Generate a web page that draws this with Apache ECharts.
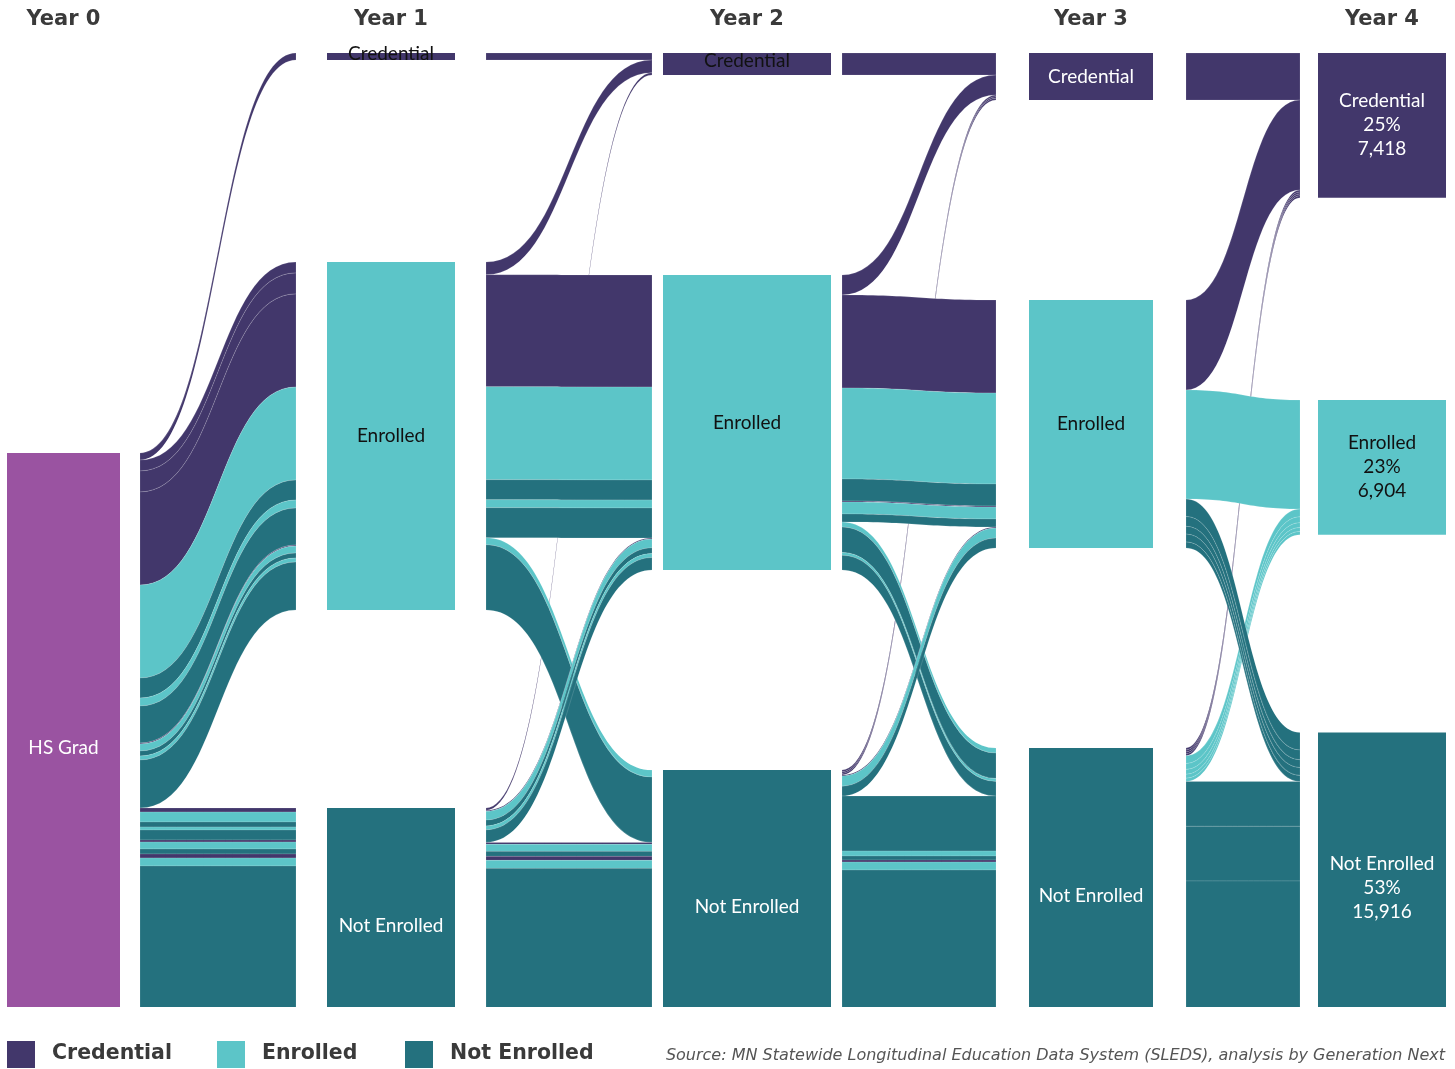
<!DOCTYPE html>
<html><head><meta charset="utf-8">
<script src="https://cdn.jsdelivr.net/npm/echarts@6/dist/echarts.min.js"></script>
<style>html,body{margin:0;padding:0;background:#fff}#c{width:1455px;height:1069px}</style>
</head><body><div id="c"></div>
<script>
// ---------------- data ----------------
const yearLabels = ['Year 0', 'Year 1', 'Year 2', 'Year 3', 'Year 4'];
const stateNames = { G: 'HS Grad', C: 'Credential', E: 'Enrolled', N: 'Not Enrolled' };
const legendStates = ['C', 'E', 'N'];
const sourceNote = 'Source: MN Statewide Longitudinal Education Data System (SLEDS), analysis by Generation Next';

// each flow: [from state, to state, state in Year 4 (colour), students]
const flowsY0Y1 = [
  ['G','C','C',360],
  ['G','E','C',560],['G','E','C',1075],['G','E','C',4771],
  ['G','E','E',4766],['G','E','N',1025],['G','E','E',410],['G','E','N',1896],
  ['G','E','C',50],['G','E','E',359],['G','E','N',256],['G','E','E',205],['G','E','N',2462],
  ['G','N','C',205],['G','N','E',512],['G','N','N',256],['G','N','E',154],['G','N','N',512],
  ['G','N','C',102],['G','N','E',359],['G','N','N',256],['G','N','C',205],['G','N','E',410],['G','N','N',9072]
];
const flowsY1Y2 = [
  ['C','C','C',360],
  ['E','C','C',650],
  ['N','C','C',120],
  ['E','E','C',5740],['E','E','E',4766],['E','E','N',1025],['E','E','E',410],['E','E','N',1538],
  ['E','N','E',360],['E','N','N',3346],
  ['N','E','C',50],['N','E','E',450],['N','E','N',300],['N','E','E',200],['N','E','N',641],
  ['N','N','C',102],['N','N','E',359],['N','N','N',256],['N','N','C',205],['N','N','E',410],['N','N','N',8950]
];
const flowsY2Y3 = [
  ['C','C','C',1130],
  ['E','C','C',1025],
  ['N','C','C',85],['N','C','C',85],['N','C','C',85],
  ['E','E','C',4766],['E','E','E',4664],['E','E','N',1128],['E','E','C',50],['E','E','E',615],['E','E','N',410],
  ['E','N','E',260],['E','N','N',1300],['E','N','E',150],['E','N','N',752],
  ['N','E','C',50],['N','E','E',520],['N','E','N',507],
  ['N','N','N',2820],['N','N','E',256],['N','N','N',205],['N','N','C',102],['N','N','E',410],['N','N','N',8863]
];
const flowsY3Y4 = [
  ['C','C','C',2410],
  ['E','C','C',4612],
  ['N','C','C',99],['N','C','C',99],['N','C','C',99],['N','C','C',99],
  ['E','E','E',5586],
  ['N','E','E',400],['N','E','E',300],['N','E','E',250],['N','E','E',200],['N','E','E',168],
  ['E','N','N',900],['E','N','N',500],['E','N','N',400],['E','N','N',400],['E','N','N',312],
  ['N','N','N',2300],['N','N','N',2800],['N','N','N',8304]
];

// ---------------- styling / layout ----------------
const COLORS = { G: '#9a53a1', C: '#42376b', E: '#5cc5c8', N: '#24717e' };
const W = 1455;
const TOP = 53, H = 990, GAP = 200, NODE_W = 190;
// rect left edge of each column and the painted part of the bar
const COLS = [
  { left: -50,  c0: 7,    c1: 120 },
  { left: 296,  c0: 327,  c1: 455 },
  { left: 652,  c0: 663,  c1: 831 },
  { left: 996,  c0: 1029, c1: 1153 },
  { left: 1300, c0: 1318, c1: 1446 }
];
const nodeTopPx = { G0: 453, C1: 53, E1: 262, C2: 53, E2: 275, C3: 53, E3: 300, C4: 53, E4: 400 };

// ---------------- build sankey ----------------
const transitions = [flowsY0Y1, flowsY1Y2, flowsY2Y3, flowsY3Y4];
const links = [];
const inSum = {}, outSum = {};
transitions.forEach((fl, t) => fl.forEach(([a, b, f, v]) => {
  const s = a + t, d = b + (t + 1);
  links.push({ source: s, target: d, value: v, lineStyle: { color: COLORS[f] } });
  inSum[d] = (inSum[d] || 0) + v;
  outSum[s] = (outSum[s] || 0) + v;
}));
const total = outSum['G0'];
const ky = (H - 2 * GAP) / total;

function barFill(col, color) {
  const s0 = (col.c0 - col.left) / NODE_W, s1 = (col.c1 - col.left) / NODE_W;
  const clear = 'rgba(255,255,255,0)';
  return { type: 'linear', x: 0, y: 0, x2: 1, y2: 0, colorStops: [
    { offset: 0, color: clear }, { offset: s0, color: clear },
    { offset: s0, color: color }, { offset: s1, color: color },
    { offset: s1, color: clear }, { offset: 1, color: clear }] };
}

const nodes = [];
const labelText = {};
const nodeIds = ['G0'];
for (let y = 1; y <= 4; y++) ['C', 'E', 'N'].forEach(s => nodeIds.push(s + y));
nodeIds.forEach(id => {
  const st = id[0], yr = +id[1];
  const col = COLS[yr];
  const val = yr === 0 ? outSum[id] : inSum[id];
  const hPx = val * ky;
  const topPx = nodeTopPx[id] != null ? nodeTopPx[id] : TOP + H - hPx;
  const thin = hPx < 30;
  let txt = stateNames[st];
  if (yr === 4) {
    txt += '\n' + Math.round(val / total * 100) + '%\n' + val.toLocaleString('en-US');
  }
  labelText[id] = txt;
  const colorCenter = (col.c0 + col.c1) / 2;
  const rectCenter = col.left + NODE_W / 2;
  nodes.push({
    name: id,
    localX: col.left / W,
    localY: (topPx - TOP) / H,
    itemStyle: { color: barFill(col, COLORS[st]), borderWidth: 0 },
    label: {
      color: (st === 'E' || thin) ? '#111' : '#fff',
      offset: [colorCenter - rectCenter, thin ? -3 : 0]
    }
  });
});

// ---------------- chart ----------------
const chart = echarts.init(document.getElementById('c'), null, { renderer: 'canvas' });
const elements = [];
yearLabels.forEach((t, i) => {
  elements.push({ type: 'text', x: (COLS[i].c0 + COLS[i].c1) / 2, y: 20, z: 100,
    style: { text: t, fontSize: 21, fontWeight: 'bold', fontFamily: 'DejaVu Sans', fill: '#3a3a3a',
      align: 'center', verticalAlign: 'middle', textAlign: 'center', textVerticalAlign: 'middle' } });
});
elements.push({ type: 'rect', z: 100, shape: { x: 0, y: 1007, width: W, height: 62 }, style: { fill: '#fff' } });
const legX = [7, 217, 405];
legendStates.forEach((s, i) => {
  elements.push({ type: 'rect', z: 101, shape: { x: legX[i], y: 1041, width: 28, height: 27 }, style: { fill: COLORS[s] } });
  elements.push({ type: 'text', z: 101, x: legX[i] + 45, y: 1054,
    style: { text: stateNames[s], fontSize: 20.5, fontWeight: 'bold', fontFamily: 'DejaVu Sans', fill: '#3a3a3a',
      align: 'left', verticalAlign: 'middle', textAlign: 'left', textVerticalAlign: 'middle' } });
});
elements.push({ type: 'text', z: 101, x: 1445, y: 1056,
  style: { text: sourceNote, fontSize: 16, fontStyle: 'italic', fontFamily: 'DejaVu Sans', fill: '#555',
    align: 'right', verticalAlign: 'middle', textAlign: 'right', textVerticalAlign: 'middle' } });

chart.setOption({
  backgroundColor: '#fff',
  animation: false,
  graphic: { z: 100, elements: elements },
  series: [{
    type: 'sankey',
    left: 0, top: TOP, width: W, height: H,
    nodeWidth: NODE_W, nodeGap: GAP,
    layoutIterations: 0,
    draggable: false,
    emphasis: { disabled: true },
    data: nodes,
    links: links,
    itemStyle: { borderWidth: 0 },
    lineStyle: { opacity: 1, curveness: 0.5, borderColor: 'rgba(255,255,255,0.35)', borderWidth: 0.4 },
    label: {
      show: true, position: 'inside', fontFamily: 'Lato', fontSize: 19, lineHeight: 24,
      formatter: p => labelText[p.name]
    }
  }]
});
</script>
</body></html>
